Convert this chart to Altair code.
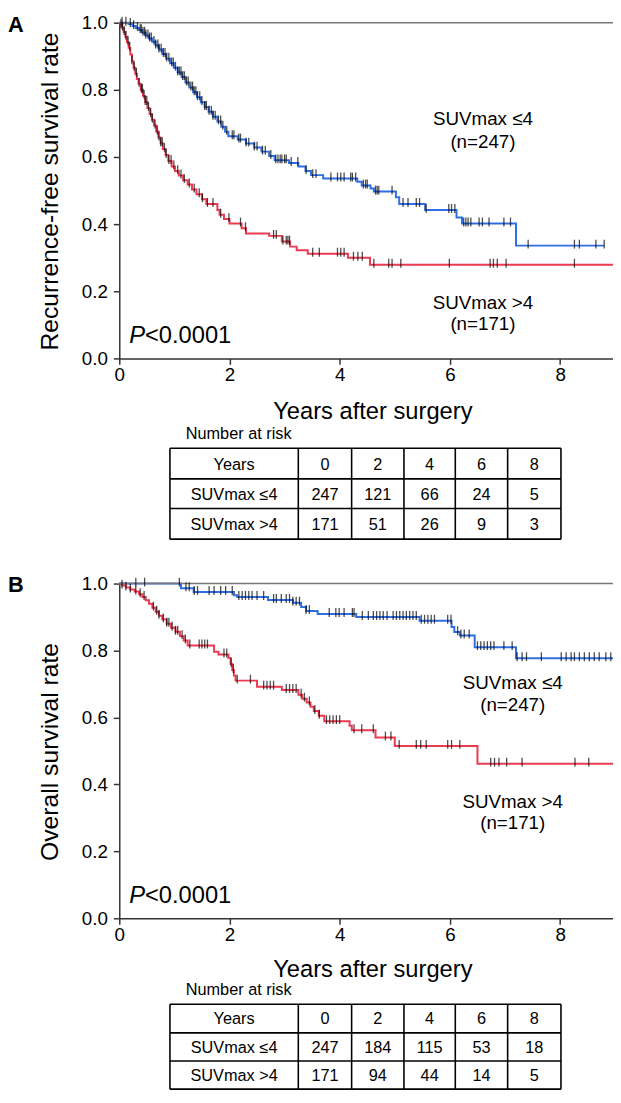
import altair as alt
import pandas as pd

# ------------------------------------------------------------------ data
groups = ["SUVmax ≤4", "SUVmax >4"]
group_n = ["(n=247)", "(n=171)"]
risk_years = [0, 2, 4, 6, 8]
y_ticks = [0.0, 0.2, 0.4, 0.6, 0.8, 1.0]

# Panel A: recurrence-free survival, SUVmax <=4 (step times / survival after step)
rfs_low_t = [0.17, 0.24, 0.30, 0.36, 0.42, 0.48, 0.54, 0.60, 0.66, 0.72, 0.78, 0.85, 0.92, 0.99,
             1.06, 1.13, 1.20, 1.27, 1.34, 1.41, 1.48, 1.55, 1.62, 1.70, 1.78, 1.85, 1.92, 1.98,
             2.15, 2.30, 2.45, 2.58, 2.72, 2.82, 3.08, 3.25, 3.38, 3.48, 3.70, 4.32, 4.40, 4.56,
             4.62, 5.02, 5.08, 5.55, 6.12, 6.22, 7.20]
rfs_low_s = [0.996, 0.990, 0.984, 0.978, 0.970, 0.962, 0.953, 0.943, 0.932, 0.920, 0.907, 0.893,
             0.879, 0.866, 0.852, 0.838, 0.822, 0.807, 0.793, 0.778, 0.763, 0.749, 0.735, 0.720,
             0.706, 0.690, 0.675, 0.662, 0.652, 0.640, 0.628, 0.616, 0.603, 0.590, 0.582, 0.572,
             0.558, 0.546, 0.536, 0.526, 0.515, 0.506, 0.497, 0.480, 0.460, 0.442, 0.420, 0.402,
             0.336]
rfs_low_end = 8.80
rfs_low_cens = [0.05, 0.12, 0.20, 0.26, 0.33, 0.38, 0.40, 0.43, 0.46, 0.48, 0.52, 0.55, 0.58,
                0.63, 0.66, 0.70, 0.72, 0.76, 0.80, 0.83, 0.86, 0.90, 0.95, 0.98, 1.02, 1.06,
                1.09, 1.12, 1.15, 1.18, 1.22, 1.25, 1.30, 1.33, 1.36, 1.39, 1.42, 1.46, 1.50,
                1.55, 1.58, 1.63, 1.67, 1.70, 1.74, 1.80, 1.84, 1.88, 1.95, 2.05, 2.08, 2.17,
                2.20, 2.30, 2.35, 2.45, 2.50, 2.60, 2.65, 2.75, 2.84, 2.88, 2.92, 2.95, 3.00,
                3.03, 3.12, 3.24, 3.39, 3.51, 3.57, 3.84, 3.96, 4.02, 4.08, 4.20, 4.23, 4.29,
                4.43, 4.47, 4.50, 4.65, 4.68, 4.71, 4.95, 5.15, 5.24, 5.39, 5.45, 5.57, 5.98,
                6.03, 6.09, 6.25, 6.29, 6.33, 6.38, 6.53, 6.59, 6.71, 6.98, 7.10, 7.42, 8.26,
                8.35, 8.65, 8.80]

# Panel A: recurrence-free survival, SUVmax >4
rfs_high_t = [0.02, 0.05, 0.08, 0.11, 0.14, 0.17, 0.20, 0.23, 0.26, 0.29, 0.32, 0.35, 0.39, 0.43,
              0.47, 0.51, 0.55, 0.59, 0.63, 0.67, 0.71, 0.75, 0.79, 0.84, 0.89, 0.95, 1.01, 1.08,
              1.16, 1.24, 1.32, 1.40, 1.50, 1.58, 1.78, 1.82, 1.90, 2.00, 2.22, 2.30, 2.72, 2.95,
              3.10, 3.22, 3.42, 4.15, 4.55]
rfs_high_s = [0.994, 0.985, 0.972, 0.958, 0.942, 0.925, 0.905, 0.885, 0.866, 0.848, 0.832, 0.818,
              0.800, 0.782, 0.764, 0.746, 0.728, 0.711, 0.694, 0.676, 0.658, 0.641, 0.624, 0.606,
              0.588, 0.572, 0.558, 0.545, 0.531, 0.518, 0.503, 0.489, 0.474, 0.460, 0.442, 0.428,
              0.415, 0.402, 0.388, 0.372, 0.365, 0.348, 0.333, 0.322, 0.312, 0.300, 0.279]
rfs_high_end = 8.96
rfs_high_cens = [0.03, 0.06, 0.09, 0.12, 0.16, 0.19, 0.23, 0.27, 0.31, 0.36, 0.40, 0.42, 0.45,
                 0.47, 0.50, 0.53, 0.57, 0.60, 0.65, 0.69, 0.72, 0.75, 0.78, 0.82, 0.85, 0.90,
                 0.94, 0.99, 1.06, 1.12, 1.18, 1.27, 1.36, 1.45, 1.51, 1.60, 1.70, 1.84, 1.99,
                 2.20, 2.29, 2.80, 2.85, 2.97, 3.03, 3.06, 3.09, 3.51, 3.63, 3.96, 4.02, 4.08,
                 4.25, 4.33, 4.41, 4.62, 4.89, 4.95, 5.11, 5.99, 6.73, 6.79, 6.86, 7.02, 8.26]

# Panel B: overall survival, SUVmax <=4
os_low_t = [1.12, 1.35, 2.08, 2.14, 2.70, 3.15, 3.30, 3.39, 3.60, 4.30, 5.45, 6.03, 6.08, 6.18,
            6.45, 7.20]
os_low_s = [0.986, 0.975, 0.965, 0.960, 0.951, 0.943, 0.930, 0.918, 0.909, 0.900, 0.889, 0.870,
            0.855, 0.845, 0.810, 0.777]
os_low_end = 8.96
os_low_cens = [0.30, 0.46, 1.09, 1.21, 1.27, 1.36, 1.42, 1.63, 1.72, 1.84, 1.93, 2.05, 2.17, 2.23,
               2.29, 2.35, 2.41, 2.50, 2.62, 2.80, 2.85, 2.94, 3.03, 3.09, 3.15, 3.21, 3.27, 3.39,
               3.45, 3.81, 3.93, 3.99, 4.08, 4.23, 4.26, 4.41, 4.52, 4.61, 4.67, 4.73, 4.79, 4.86,
               4.97, 5.03, 5.09, 5.15, 5.21, 5.27, 5.33, 5.39, 5.48, 5.54, 5.60, 5.66, 5.72, 5.96,
               6.02, 6.14, 6.20, 6.26, 6.35, 6.50, 6.56, 6.62, 6.68, 6.74, 6.80, 6.98, 7.13, 7.22,
               7.31, 7.39, 7.66, 8.02, 8.11, 8.20, 8.26, 8.35, 8.44, 8.53, 8.62, 8.71, 8.83, 8.92]

# Panel B: overall survival, SUVmax >4
os_high_t = [0.05, 0.12, 0.20, 0.28, 0.36, 0.42, 0.48, 0.54, 0.60, 0.66, 0.72, 0.78, 0.86, 0.94,
             1.02, 1.10, 1.17, 1.24, 1.72, 1.80, 1.98, 2.02, 2.05, 2.08, 2.11, 2.50, 2.95, 3.25,
             3.32, 3.40, 3.47, 3.53, 3.62, 3.72, 4.18, 4.22, 4.65, 5.00, 6.50]
os_high_s = [0.994, 0.988, 0.982, 0.976, 0.968, 0.960, 0.950, 0.940, 0.928, 0.916, 0.904, 0.893,
             0.880, 0.868, 0.856, 0.843, 0.830, 0.815, 0.796, 0.788, 0.778, 0.760, 0.742, 0.725,
             0.710, 0.692, 0.682, 0.668, 0.656, 0.645, 0.632, 0.619, 0.605, 0.589, 0.575, 0.562,
             0.540, 0.515, 0.462]
os_high_end = 8.96
os_high_cens = [0.05, 0.12, 0.20, 0.30, 0.38, 0.45, 0.62, 0.68, 0.72, 0.80, 0.86, 0.90, 0.96, 1.02,
                1.06, 1.14, 1.20, 1.28, 1.45, 1.50, 1.55, 1.60, 1.90, 1.95, 2.03, 2.07, 2.14, 2.38,
                2.62, 2.68, 2.74, 2.80, 3.03, 3.09, 3.15, 3.21, 3.30, 3.36, 3.45, 3.55, 3.63, 3.76,
                3.82, 3.88, 3.94, 4.00, 4.26, 4.40, 4.61, 4.83, 4.93, 5.08, 5.39, 5.47, 5.57, 5.96,
                6.03, 6.18, 6.74, 6.81, 6.89, 7.03, 7.31, 8.27, 8.52]

# numbers at risk
risk_rfs_low = [247, 121, 66, 24, 5]
risk_rfs_high = [171, 51, 26, 9, 3]
risk_os_low = [247, 184, 115, 53, 18]
risk_os_high = [171, 94, 44, 14, 5]

# ------------------------------------------------------------------ style / layout (px)
FONT = "Liberation Sans"
BLUE = "#2f6fe4"
RED = "#ec3a50"
W = 500                     # plot width
XMAX = 8.96
A_TOP, A_BOT = 0, 340       # panel A plot, in view coordinates
B_TOP, B_BOT = 568, 907     # panel B plot
VIEW_H = B_BOT
TX = [51.3, 181.3, 235.3, 288.3, 340.3, 393.3, 447.3]      # table column edges
TY_A = [431, 462, 492, 523]                                 # table A row edges
TY_B = [994, 1023, 1051.5, 1080]                            # table B row edges
one = pd.DataFrame({"k": [0]})


def step_rows(name, ts, ss, end):
    pts = [(0.0, 1.0)] + list(zip(ts, ss)) + [(end, ss[-1])]
    return [dict(g=name, t=t, s=s, o=i) for i, (t, s) in enumerate(pts)]


def censor_rows(name, ts, ss, cens):
    rows = []
    for c in cens:
        s = 1.0
        for ti, si in zip(ts, ss):
            if ti <= c:
                s = si
        rows.append(dict(g=name, t=c, s=s))
    return rows


def txt(text, x, y, size, align="center", baseline="middle", angle=0, weight="normal",
        style="normal"):
    return alt.Chart(one).mark_text(
        text=text, align=align, baseline=baseline, angle=angle, fontSize=size,
        fontWeight=weight, fontStyle=style, font=FONT, color="black"
    ).encode(x=alt.value(x), y=alt.value(y))


def panel(curves, top_px, bot_px, lab_t, lab_s):
    lines, cens = [], []
    for name, ts, ss, end, cs in curves:
        lines += step_rows(name, ts, ss, end)
        cens += censor_rows(name, ts, ss, cs)
    xs = alt.Scale(domain=[0, XMAX], range=[0, W], nice=False, zero=False)
    ys = alt.Scale(domain=[0, 1], range=[bot_px, top_px], nice=False, zero=False)
    xax = alt.Axis(values=risk_years, format="d", title=None, labelFontSize=19, labelPadding=1,
                   tickSize=6, grid=False, labelFlush=False, orient="bottom",
                   offset=bot_px - VIEW_H)
    yax = alt.Axis(values=y_ticks, format=".1f", title=None, labelFontSize=19, labelPadding=6,
                   tickSize=6, grid=False, orient="left")
    X = alt.X("t:Q", scale=xs, axis=xax)
    Y = alt.Y("s:Q", scale=ys, axis=yax)
    col = alt.Color("g:N", scale=alt.Scale(domain=groups, range=[BLUE, RED]), legend=None)

    top = alt.Chart(one).mark_rule(color="#777777", strokeWidth=1.5).encode(
        x=alt.value(0), x2=alt.value(W), y=alt.datum(1.0))
    curve = alt.Chart(pd.DataFrame(lines)).mark_line(
        interpolate="step-after", strokeWidth=2).encode(x=X, y=Y, color=col, order="o:Q")
    ticks = alt.Chart(pd.DataFrame(cens)).mark_tick(
        orient="vertical", size=9, thickness=1.3, color="black", yOffset=-1.5).encode(x=X, y=Y)
    layers = [curve, top, ticks]
    for i in range(2):
        layers.append(alt.Chart(one).mark_text(
            text=groups[i], fontSize=19, font=FONT, color="black", baseline="middle"
        ).encode(x=alt.datum(lab_t), y=alt.datum(lab_s[i][0])))
        layers.append(alt.Chart(one).mark_text(
            text=group_n[i], fontSize=19, font=FONT, color="black", baseline="middle"
        ).encode(x=alt.datum(lab_t), y=alt.datum(lab_s[i][1])))
    return alt.layer(*layers)


def decorations(letter, ytitle, top_px, bot_px, xtitle_y, nar_y, TY, risk_low, risk_high):
    h = bot_px - top_px
    out = [
        txt("P", 10, bot_px - 16, 24, align="left", baseline="alphabetic", style="italic"),
        txt("<0.0001", 26, bot_px - 16, 24, align="left", baseline="alphabetic"),
        txt(letter, -112.7, top_px - 8, 22, align="left", baseline="top", weight="bold"),
        txt(ytitle, -70, top_px + h / 2 + 1, 25, angle=270),
        txt("Years after surgery", 256.8, xtitle_y, 24),
        txt("Number at risk", 67.3, nar_y, 16.5, align="left"),
    ]
    for yy in TY:
        out.append(alt.Chart(one).mark_rule(color="black", strokeWidth=1.6).encode(
            x=alt.value(TX[0]), x2=alt.value(TX[-1]), y=alt.value(yy)))
    for xx in TX:
        out.append(alt.Chart(one).mark_rule(color="black", strokeWidth=1.6).encode(
            x=alt.value(xx), y=alt.value(TY[0]), y2=alt.value(TY[-1])))
    rows = [["Years"] + [str(v) for v in risk_years],
            [groups[0]] + [str(v) for v in risk_low],
            [groups[1]] + [str(v) for v in risk_high]]
    for i, row in enumerate(rows):
        for j, cell in enumerate(row):
            out.append(txt(cell, (TX[j] + TX[j + 1]) / 2, (TY[i] + TY[i + 1]) / 2 + 1, 16.5))
    return out


pA = panel([(groups[0], rfs_low_t, rfs_low_s, rfs_low_end, rfs_low_cens),
            (groups[1], rfs_high_t, rfs_high_s, rfs_high_end, rfs_high_cens)],
           A_TOP, A_BOT, 6.6, [(0.712, 0.645), (0.165, 0.101)])
pB = panel([(groups[0], os_low_t, os_low_s, os_low_end, os_low_cens),
            (groups[1], os_high_t, os_high_s, os_high_end, os_high_cens)],
           B_TOP, B_BOT, 7.14, [(0.702, 0.638), (0.348, 0.284)])

decoA = decorations("A", "Recurrence-free survival rate", A_TOP, A_BOT, 394, 417, TY_A,
                    risk_rfs_low, risk_rfs_high)
decoB = decorations("B", "Overall survival rate", B_TOP, B_BOT, 959, 980, TY_B,
                    risk_os_low, risk_os_high)

chart = alt.layer(pA, pB, *decoA, *decoB).resolve_scale(
    x="independent", y="independent"
).properties(
    width=W, height=VIEW_H,
    autosize=alt.AutoSizeParams(type="none"),
    padding={"left": 112.7, "top": 8, "right": 0, "bottom": 1074 - VIEW_H},
).configure(font=FONT).configure_view(stroke=None).configure_axis(
    domainColor="#333333", tickColor="#333333", labelColor="black", domainWidth=1.5,
    tickWidth=1.5, labelFont=FONT)

chart.save("out.html", embed_options={"renderer": "svg", "actions": False})
